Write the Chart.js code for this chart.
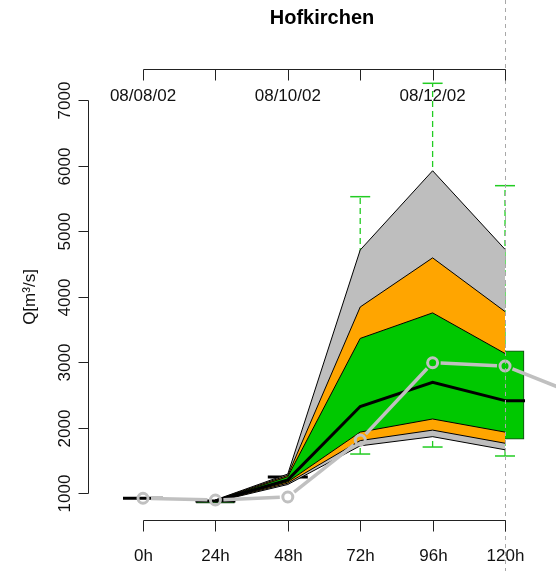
<!DOCTYPE html>
<html>
<head>
<meta charset="utf-8">
<title>Hofkirchen</title>
<script src="https://cdn.jsdelivr.net/npm/chart.js@4.4.1/dist/chart.umd.min.js"></script>
<style>
  html, body { margin: 0; padding: 0; background: #ffffff; }
  #wrap { width: 556px; height: 571px; }
</style>
</head>
<body>
<div id="wrap"><canvas id="chart" width="556" height="571"></canvas></div>
<script>
// Forecast lead times (hours) and ensemble quantile bands, discharge in m³/s
const leadHours   = [24, 48, 72, 96, 120];
const grayHigh    = [895, 1290, 4710, 5920, 4720];
const orangeHigh  = [890, 1270, 3840, 4590, 3770];
const greenHigh   = [885, 1250, 3360, 3750, 3130];
const medianQ     = [878, 1200, 2320, 2690, 2410];
const greenLow    = [872, 1170, 1930, 2130, 1930];
const orangeLow   = [868, 1150, 1800, 1960, 1760];
const grayLow     = [865, 1130, 1720, 1860, 1660];

// Overall forecast range (dashed whiskers)
const rangeHours  = [72, 96, 120];
const rangeLow    = [1595, 1702, 1565];
const rangeHigh   = [5524, 7255, 5692];

// Earlier forecast boxes
const boxHours    = [0, 24, 48, 120];
const boxLow      = [null, 845, null, 1820];
const boxHigh     = [null, 880, null, 3170];
const boxMedian   = [920, 878, 1245, 2410];

// Observed discharge
const obsHours    = [0, 24, 48, 72, 96, 120, 144];
const obsQ        = [920, 893, 939, 1809, 2989, 2939, 2500];

// Axis ticks and labels
const hourTicks   = [0, 24, 48, 72, 96, 120];
const hourLabels  = ['0h', '24h', '48h', '72h', '96h', '120h'];
const dateTicks   = [0, 48, 96];
const dateLabels  = ['08/08/02', '08/10/02', '08/12/02'];
const qTicks      = [1000, 2000, 3000, 4000, 5000, 6000, 7000];
const titleText   = 'Hofkirchen';
const yTitle      = 'Q[m³/s]';

const GRAY = '#bebebe', ORANGE = '#ffa500', GREEN = '#00c800', WHISKER = '#22cc22', OBS = '#c0c0c0';
const FONT = "'Liberation Sans', Arial, sans-serif";

const pts = (xs, ys) => xs.map((x, i) => ({ x, y: ys[i] })).filter(p => p.y !== null);

function band(values, color, order, fill) {
  return {
    type: 'line', data: pts(leadHours, values), order,
    borderColor: '#000', borderWidth: 1, pointRadius: 0, tension: 0,
    fill: fill ? '+1' : false, backgroundColor: color
  };
}

const datasets = [
  // observed series: circles (connecting segments are drawn with gaps by the plugin)
  { type: 'line', data: pts(obsHours, obsQ), order: 0, showLine: false,
    pointRadius: 5, pointBorderWidth: 3, pointBorderColor: OBS, pointBackgroundColor: 'rgba(0,0,0,0)' },
  // ensemble median
  { type: 'line', data: pts(leadHours, medianQ), order: 10, borderColor: '#000', borderWidth: 3,
    pointRadius: 0, tension: 0, fill: false },
  band(greenHigh, GREEN, 21, true),  band(greenLow, GREEN, 20, false),
  band(orangeHigh, ORANGE, 31, true), band(orangeLow, ORANGE, 30, false),
  band(grayHigh, GRAY, 41, true),    band(grayLow, GRAY, 40, false),
];

// dashed whiskers with caps
rangeHours.forEach((h, i) => {
  datasets.push({
    type: 'line', order: 50, data: [{ x: h, y: rangeLow[i] }, { x: h, y: rangeHigh[i] }],
    borderColor: WHISKER, borderWidth: 1.3, borderDash: [6, 4], tension: 0, fill: false,
    pointStyle: 'line', pointRadius: 10, pointBorderWidth: 1.5, pointBorderColor: WHISKER
  });
});

// earlier forecast boxes and their medians
datasets.push({
  type: 'line', order: 55, showLine: false, data: pts(boxHours, boxMedian),
  pointStyle: 'line', pointRadius: 20, pointBorderWidth: 3, pointBorderColor: '#000'
});
datasets.push({
  type: 'bar', order: 60, grouped: false, barThickness: 38, borderSkipped: false,
  data: boxHours.map((x, i) => boxLow[i] === null ? null : { x, y: [boxLow[i], boxHigh[i]] }).filter(Boolean),
  backgroundColor: GREEN, borderColor: '#1a3a1a', borderWidth: 1
});

const frame = {
  id: 'frame',
  afterDatasetsDraw(chart) {
    const ctx = chart.ctx, xs = chart.scales.x, ys = chart.scales.y;
    // vertical dashed marker at the end of the forecast horizon
    ctx.save();
    ctx.strokeStyle = '#a8a8a8'; ctx.lineWidth = 1; ctx.setLineDash([4, 4]);
    const xe = Math.round(xs.getPixelForValue(hourTicks[hourTicks.length - 1])) + 0.5;
    ctx.beginPath(); ctx.moveTo(xe, 0); ctx.lineTo(xe, chart.height); ctx.stroke();
    ctx.restore();

    // observed line, broken around each circle
    ctx.save();
    ctx.strokeStyle = OBS; ctx.lineWidth = 3.5; ctx.lineCap = 'butt';
    const gap = 8;
    for (let i = 0; i < obsHours.length - 1; i++) {
      const x0 = xs.getPixelForValue(obsHours[i]),     y0 = ys.getPixelForValue(obsQ[i]);
      const x1 = xs.getPixelForValue(obsHours[i + 1]), y1 = ys.getPixelForValue(obsQ[i + 1]);
      const d = Math.hypot(x1 - x0, y1 - y0);
      if (d <= 2 * gap) continue;
      const ux = (x1 - x0) / d, uy = (y1 - y0) / d;
      ctx.beginPath();
      ctx.moveTo(x0 + ux * gap, y0 + uy * gap);
      ctx.lineTo(x1 - ux * gap, y1 - uy * gap);
      ctx.stroke();
    }
    ctx.restore();
  },
  afterDraw(chart) {
    const ctx = chart.ctx, xs = chart.scales.x, ys = chart.scales.y, area = chart.chartArea;
    ctx.save();
    ctx.strokeStyle = '#222'; ctx.lineWidth = 1; ctx.fillStyle = '#111';

    const xFirst = Math.round(xs.getPixelForValue(hourTicks[0])) + 0.5;
    const xLast  = Math.round(xs.getPixelForValue(hourTicks[hourTicks.length - 1])) + 0.5;

    // bottom time axis
    const yb = area.bottom + 0.5;
    ctx.beginPath(); ctx.moveTo(xFirst, yb); ctx.lineTo(xLast, yb); ctx.stroke();
    ctx.font = '17px ' + FONT; ctx.textAlign = 'center'; ctx.textBaseline = 'middle';
    hourTicks.forEach((h, i) => {
      const x = Math.round(xs.getPixelForValue(h)) + 0.5;
      ctx.beginPath(); ctx.moveTo(x, yb); ctx.lineTo(x, yb + 11); ctx.stroke();
      ctx.fillText(hourLabels[i], x, area.bottom + 36);
    });

    // top date axis
    const yt = area.top + 0.5;
    ctx.beginPath(); ctx.moveTo(xFirst, yt); ctx.lineTo(xLast, yt); ctx.stroke();
    hourTicks.forEach(h => {
      const x = Math.round(xs.getPixelForValue(h)) + 0.5;
      ctx.beginPath(); ctx.moveTo(x, yt); ctx.lineTo(x, yt + 11); ctx.stroke();
    });
    dateTicks.forEach((h, i) => ctx.fillText(dateLabels[i], xs.getPixelForValue(h), area.top + 27));

    // discharge axis
    const xl = area.left + 0.5;
    const yLo = Math.round(ys.getPixelForValue(qTicks[0])) + 0.5;
    const yHi = Math.round(ys.getPixelForValue(qTicks[qTicks.length - 1])) + 0.5;
    ctx.beginPath(); ctx.moveTo(xl, yLo); ctx.lineTo(xl, yHi); ctx.stroke();
    qTicks.forEach(q => {
      const y = Math.round(ys.getPixelForValue(q)) + 0.5;
      ctx.beginPath(); ctx.moveTo(xl, y); ctx.lineTo(xl - 10, y); ctx.stroke();
      ctx.save(); ctx.translate(area.left - 23, y); ctx.rotate(-Math.PI / 2);
      ctx.fillText(String(q), 0, 0); ctx.restore();
    });
    ctx.save(); ctx.translate(30, (yLo + yHi) / 2); ctx.rotate(-Math.PI / 2);
    ctx.fillText(yTitle, 0, 0); ctx.restore();

    // title
    ctx.font = 'bold 20px ' + FONT;
    ctx.fillStyle = '#000';
    ctx.fillText(titleText, (area.left + area.right) / 2, 18);
    ctx.restore();
  }
};

new Chart(document.getElementById('chart'), {
  type: 'line',
  data: { datasets },
  options: {
    responsive: false, animation: false, events: [],
    layout: { autoPadding: false, padding: { left: 88, right: 0, top: 69, bottom: 51 } },
    plugins: { legend: { display: false }, tooltip: { enabled: false }, title: { display: false } },
    scales: {
      x: { type: 'linear', display: false, min: -18.23, max: 136.9, offset: false },
      y: { type: 'linear', display: false, min: 587.8, max: 7473.3 }
    }
  },
  plugins: [frame]
});
</script>
</body>
</html>
